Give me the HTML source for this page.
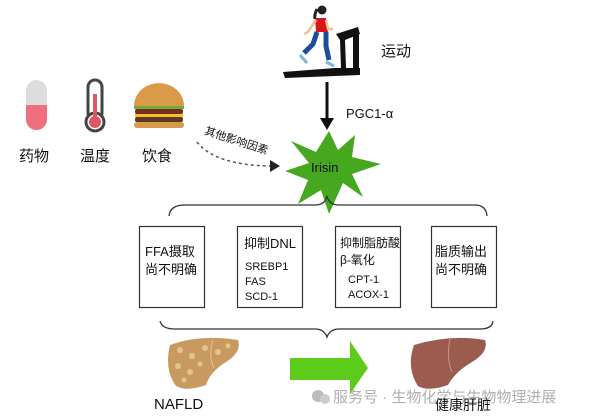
<!DOCTYPE html>
<html><head><meta charset="utf-8"><style>
body{margin:0;background:#fff;width:600px;height:420px;overflow:hidden}
svg{display:block}
text{font-family:"Liberation Sans","Noto Sans CJK SC",sans-serif;fill:#111}
</style></head><body>
<svg width="600" height="420" viewBox="0 0 600 420" xmlns="http://www.w3.org/2000/svg">
<!-- treadmill -->
<polygon points="283,72 335,68 360,68 360,75 285,78" fill="#111"/>
<polygon points="336,34 358,27 360,34 345,40 346,68 341,68 340,40" fill="#111"/>
<rect x="353" y="30" width="6" height="42" fill="#111"/>
<!-- runner -->
<circle cx="322" cy="10" r="4.5" fill="#222"/>
<path d="M317,9 q-3,6 -2,10" stroke="#222" stroke-width="3" fill="none"/>
<path d="M315,18 l11,0 l2,14 l-12,0 z" fill="#d8151b"/>
<path d="M316,20 l-8,12 l-4,2" stroke="#f0c090" stroke-width="2.5" fill="none"/>
<path d="M326,20 l2,9 l5,0" stroke="#f0c090" stroke-width="2.5" fill="none"/>
<path d="M317,32 l-4,12 l-9,9 M326,32 l0,14 l3,14" stroke="#1a4e9b" stroke-width="5" fill="none"/>
<path d="M300,55 l7,8 M326,62 l8,4" stroke="#7ab8e0" stroke-width="3"/>
<text x="381" y="56" font-size="15">运动</text>
<!-- arrow down -->
<line x1="327" y1="82" x2="327" y2="120" stroke="#111" stroke-width="3"/>
<polygon points="320,118 334,118 327,130" fill="#111"/>
<text x="346" y="118" font-size="13">PGC1-α</text>
<!-- star -->
<polygon fill="#46a81e" points="329,131 338,150 355,135 352,157 381,164 352,174 363,197 343,183 329,214 321,190 298,204 308,180 285,171 309,163 291,141 316,152"/>
<text x="311" y="172" font-size="13">Irisin</text>
<!-- left icons -->
<rect x="26" y="80" width="21" height="50" rx="10.5" fill="#ddd"/>
<path d="M26,105 h21 v14.5 a10.5,10.5 0 0 1 -21,0 z" fill="#ef6f7e"/>
<rect x="88" y="80" width="14" height="40" rx="7" fill="#fff" stroke="#444" stroke-width="3"/>
<circle cx="95" cy="122" r="9" fill="#fff" stroke="#444" stroke-width="3"/>
<circle cx="95" cy="122" r="6" fill="#e25563"/>
<rect x="93" y="94" width="4" height="28" fill="#e25563"/>
<path d="M134,106 a24,22 0 0 1 50,0 z" fill="#d99a4a"/>
<rect x="134" y="106" width="50" height="3" fill="#6ab03a"/>
<rect x="135" y="109" width="48" height="5" rx="2" fill="#7a2b20"/>
<rect x="135" y="114" width="48" height="3" fill="#f3c02a"/>
<rect x="135" y="117" width="48" height="5" rx="2" fill="#5a3a22"/>
<rect x="134" y="122" width="50" height="6" rx="3" fill="#d99a4a"/>
<text x="19" y="161" font-size="15">药物</text>
<text x="80" y="161" font-size="15">温度</text>
<text x="142" y="161" font-size="15">饮食</text>
<!-- dashed -->
<path d="M197,142 Q215,165 270,166" fill="none" stroke="#555" stroke-width="1.5" stroke-dasharray="3,3"/>
<polygon points="270,160 280,166 270,172" fill="#222"/>
<text x="0" y="0" font-size="11" transform="translate(204,134) rotate(18)">其他影响因素</text>
<!-- top brace -->
<path d="M169,216 Q170,205 185,205 L315,205 Q325,205 327,196 Q329,205 339,205 L475,205 Q486,205 487,216" fill="none" stroke="#333" stroke-width="1.3"/>
<!-- boxes -->
<g fill="#fff" stroke="#333" stroke-width="1.2">
<rect x="139.5" y="226.5" width="65" height="81"/>
<rect x="237.5" y="226.5" width="65" height="81"/>
<rect x="335.5" y="226.5" width="65" height="81"/>
<rect x="431.5" y="226.5" width="65" height="81"/>
</g>
<text x="145" y="256" font-size="13">FFA摄取</text>
<text x="145" y="274" font-size="13">尚不明确</text>
<text x="244" y="248" font-size="13">抑制DNL</text>
<text x="245" y="270" font-size="11">SREBP1</text>
<text x="245" y="285" font-size="11">FAS</text>
<text x="245" y="300" font-size="11">SCD-1</text>
<text x="340" y="247" font-size="12">抑制脂肪酸</text>
<text x="340" y="264" font-size="12">β-氧化</text>
<text x="348" y="283" font-size="11">CPT-1</text>
<text x="348" y="298" font-size="11">ACOX-1</text>
<text x="435" y="256" font-size="13">脂质输出</text>
<text x="435" y="274" font-size="13">尚不明确</text>
<!-- bottom brace -->
<path d="M160,321 Q162,329 175,329 L315,329 Q324,329 327,337 Q330,329 339,329 L480,329 Q492,329 493,321" fill="none" stroke="#333" stroke-width="1.3"/>
<!-- livers -->
<path d="M170,345 Q200,334 238,340 Q242,352 226,362 Q210,372 206,385 Q186,392 176,386 Q164,370 170,345 z" fill="#c99a5f"/>
<g fill="#e3c38e"><circle cx="180" cy="350" r="3"/><circle cx="192" cy="356" r="3"/><circle cx="205" cy="348" r="3"/><circle cx="218" cy="352" r="3"/><circle cx="178" cy="366" r="3"/><circle cx="190" cy="372" r="3"/><circle cx="228" cy="346" r="2.5"/><circle cx="200" cy="364" r="2.5"/><circle cx="184" cy="380" r="2.5"/></g>
<path d="M213,340 Q208,356 214,368" stroke="#e3c38e" stroke-width="1" fill="none"/>
<path d="M414,345 Q450,334 485,340 Q489,352 472,362 Q455,372 448,385 Q428,392 418,386 Q406,368 414,345 z" fill="#9c5b4f"/>
<path d="M450,339 Q446,358 452,372" stroke="#c9958a" stroke-width="1" fill="none"/>
<!-- green arrow -->
<polygon points="290,358 350,358 350,341 368,368 350,394 350,380 290,380" fill="#5ccb1a"/>
<text x="154" y="409" font-size="15">NAFLD</text>
<text x="333" y="402" font-size="15" style="fill:#b0b0b0">服务号 · 生物化学与生物物理进展</text>
<circle cx="318" cy="396" r="6" fill="#bbb"/><circle cx="325" cy="399" r="5" fill="#ccc"/>
<text x="435" y="410" font-size="14">健康肝脏</text>
</svg>
</body></html>
